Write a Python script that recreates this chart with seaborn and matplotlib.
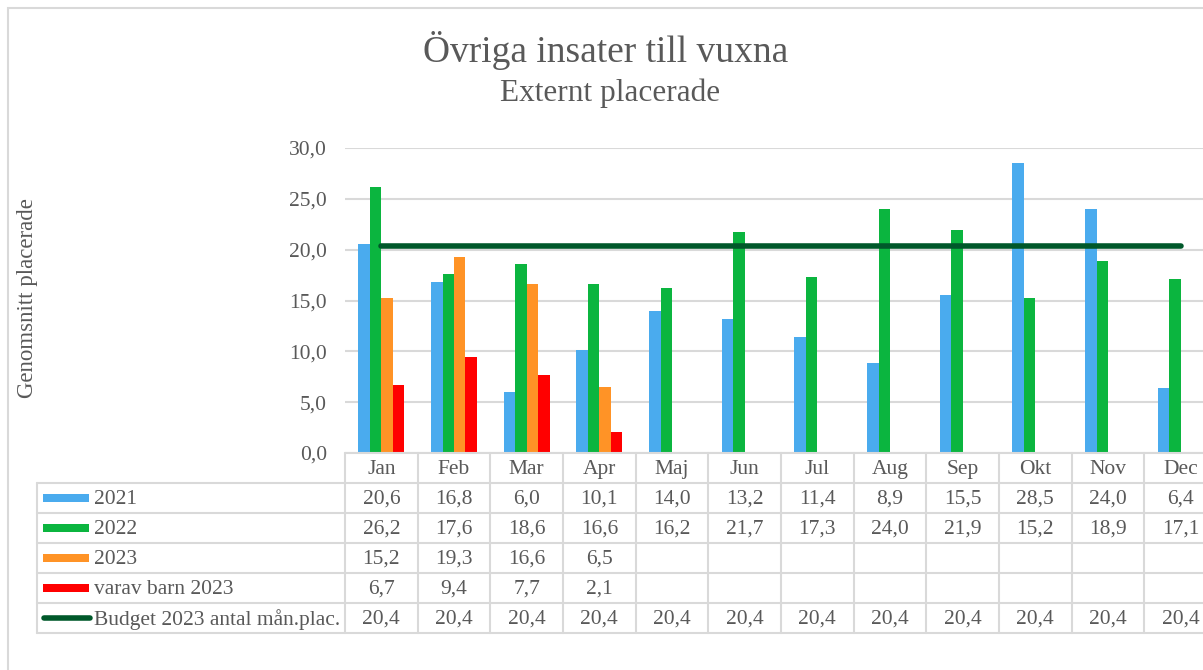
import numpy as np
import pandas as pd
import matplotlib
matplotlib.use("Agg")
import matplotlib.pyplot as plt
import matplotlib.transforms as mtransforms
from matplotlib.patches import Rectangle
from matplotlib.lines import Line2D
import seaborn as sns

months = ["Jan", "Feb", "Mar", "Apr", "Maj", "Jun", "Jul", "Aug", "Sep", "Okt", "Nov", "Dec"]
v2021 = [20.6, 16.8, 6.0, 10.1, 14.0, 13.2, 11.4, 8.9, 15.5, 28.5, 24.0, 6.4]
v2022 = [26.2, 17.6, 18.6, 16.6, 16.2, 21.7, 17.3, 24.0, 21.9, 15.2, 18.9, 17.1]
v2023 = [15.2, 19.3, 16.6, 6.5, None, None, None, None, None, None, None, None]
vbarn = [6.7, 9.4, 7.7, 2.1, None, None, None, None, None, None, None, None]
budget = [20.4] * 12

series_names = ["2021", "2022", "2023", "varav barn 2023"]
budget_name = "Budget 2023 antal mån.plac."
bar_colors = ["#4aabee", "#0bb53f", "#ff9326", "#ff0000"]
line_color = "#00582a"
text_color = "#595959"
grid_color = "#d9d9d9"

title = "Övriga insater till vuxna"
subtitle = "Externt placerade"
ylabel = "Genomsnitt placerade"

bar_series = [v2021, v2022, v2023, vbarn]
rows = []
for name, vals in zip(series_names, bar_series):
    for m, v in zip(months, vals):
        rows.append({"month": m, "series": name, "value": np.nan if v is None else v})
df = pd.DataFrame(rows)
df_line = pd.DataFrame({"x": np.arange(len(months)), "value": budget})

sns.set_theme(style="white")
plt.rcParams["font.family"] = ["Liberation Serif", "DejaVu Serif"]

W, H = 1203, 670
fig = plt.figure(figsize=(W / 100, H / 100), dpi=100)

def fx(px):
    return px / W

def fy(py):
    return 1 - py / H

FS = 15.5

ax_left, ax_right, ax_top, ax_bot = 345, 1217, 148, 453
ax = fig.add_axes([fx(ax_left), fy(ax_bot), fx(ax_right - ax_left), (ax_bot - ax_top) / H])

sns.barplot(data=df, x="month", y="value", hue="series", order=months,
            hue_order=series_names, palette=bar_colors, width=0.63,
            saturation=1, linewidth=0, legend=False, ax=ax)
sns.lineplot(data=df_line, x="x", y="value", color=line_color, linewidth=4,
             ax=ax, solid_capstyle="round")

ax.set_xlim(-0.5, 11.5)
ax.set_ylim(0, 30)
ax.set_yticks(np.arange(0, 31, 5))
ax.set_yticklabels([f"{t:.1f}".replace(".", ",") for t in np.arange(0, 31, 5)],
                   color=text_color, fontsize=FS)
ax.tick_params(axis="y", length=0, pad=13)
ax.set_xticks([])
ax.set_xlabel("")
ax.set_ylabel("")
for s in ax.spines.values():
    s.set_visible(False)
ax.yaxis.grid(True, color=grid_color, linewidth=1.5)
ax.set_axisbelow(True)

# figure border (only top and left visible, chart is cropped)
fig.patches.append(Rectangle((fx(8), fy(700)), fx(1300), (700 - 8.5) / H,
                             transform=fig.transFigure, fill=False,
                             edgecolor=grid_color, linewidth=1.5))

fig.text(fx(606), fy(50), title, ha="center", va="center", fontsize=27, color=text_color)
fig.text(fx(610), fy(93), subtitle, ha="center", va="center", fontsize=22.5, color=text_color)
fig.text(fx(28), fy(298), ylabel, ha="center", va="center", rotation=90,
         fontsize=16.5, color=text_color)

# data table
trans = mtransforms.blended_transform_factory(ax.transData, fig.transFigure)
row_h = 30
top_y = ax_bot
tbl_left = 37
n_rows = 5
bottom_y = top_y + row_h * (n_rows + 1)
lw = 1.5
fig.add_artist(Line2D([fx(ax_left), 1.05], [fy(top_y)] * 2, transform=fig.transFigure,
                      color=grid_color, linewidth=lw))
for i in range(1, n_rows + 2):
    yy = top_y + i * row_h
    fig.add_artist(Line2D([fx(tbl_left), 1.05], [fy(yy)] * 2, transform=fig.transFigure,
                          color=grid_color, linewidth=lw))
fig.add_artist(Line2D([fx(tbl_left)] * 2, [fy(top_y + row_h), fy(bottom_y)],
                      transform=fig.transFigure, color=grid_color, linewidth=lw))
for k in range(len(months) + 1):
    xx = k - 0.5
    fig.add_artist(Line2D([xx, xx], [fy(top_y), fy(bottom_y)], transform=trans,
                          color=grid_color, linewidth=lw, clip_on=False))

dy = 1.5
for k, m in enumerate(months):
    fig.text(k, fy(top_y + row_h / 2 + dy), m, transform=trans, ha="center", va="center",
             fontsize=FS, color=text_color)

table_series = [v2021, v2022, v2023, vbarn, budget]
table_names = series_names + [budget_name]
for r, (name, vals) in enumerate(zip(table_names, table_series)):
    yc = top_y + (r + 1.5) * row_h
    if r < 4:
        fig.patches.append(Rectangle((fx(43), fy(yc + 4)), fx(46), 8 / H,
                                     transform=fig.transFigure, color=bar_colors[r], linewidth=0))
    else:
        fig.add_artist(Line2D([fx(44), fx(90)], [fy(yc)] * 2, transform=fig.transFigure,
                              color=line_color, linewidth=4, solid_capstyle="round"))
    fig.text(fx(94), fy(yc + dy), name, ha="left", va="center", fontsize=FS, color=text_color)
    for k, v in enumerate(vals):
        if v is None:
            continue
        fig.text(k, fy(yc + dy), f"{v:.1f}".replace(".", ","), transform=trans,
                 ha="center", va="center", fontsize=FS, color=text_color)

fig.savefig("out.png", dpi=100)
